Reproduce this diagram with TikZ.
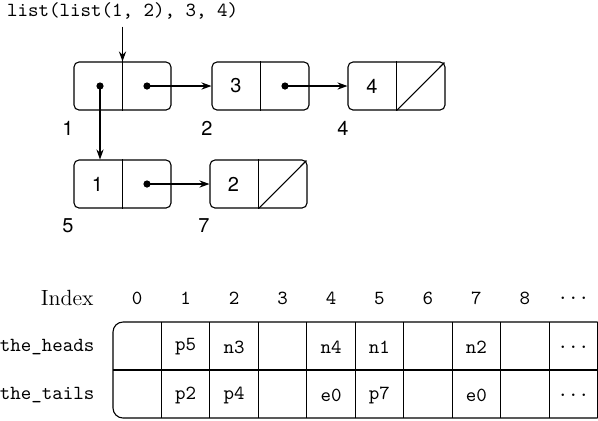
\documentclass[tikz,border=0pt]{standalone}
\usepackage{fontspec}
\newfontfamily\helv{TeX Gyre Heros}
\usepackage{tikz}
\usetikzlibrary{positioning, arrows.meta}

\tikzset{
  cell/.style={draw, rounded corners=2.5pt, minimum width=48.5pt,
               minimum height=24pt, inner sep=0pt},
  ptr/.style={-{Stealth[length=5pt, width=3.6pt]}},
  dot/.style={circle, fill, inner sep=0pt, minimum size=3.6pt},
  num/.style={font=\helv},
  code/.style={font=\ttfamily},
  rowname/.style={code, anchor=east, inner xsep=0pt},
}

\begin{document}
\begin{tikzpicture}[x=0.5pt, y=-0.5pt, line width=0.55pt]
  \useasboundingbox (0,0) rectangle (598,420);

  % the list cells
  \node[code] (expr) at (122.5,11) {list(list(1, 2), 3, 4)};
  \node[cell] (c1) at (122.5,86) {};
  \node[cell] (c2) at (260.5,86) {};
  \node[cell] (c4) at (396.5,86) {};
  \node[cell] (c5) at (122.5,184) {};
  \node[cell] (c7) at (258.5,184) {};
  \foreach \c in {c1,c2,c4,c5,c7}
    \draw (\c.north) -- (\c.south);
  \draw[shorten >=0.8pt] (c4.south) -- (c4.north east);
  \draw[shorten >=0.8pt] (c7.south) -- (c7.north east);

  \node[dot] (d1a) at ([xshift=-11.25pt]c1.center) {};
  \node[dot] (d1b) at ([xshift=12.25pt]c1.center) {};
  \node[num] (v2) at ([xshift=-12.25pt]c2.center) {3};
  \node[dot] (d2b) at ([xshift=12.25pt]c2.center) {};
  \node[num] (v4) at ([xshift=-12.25pt]c4.center) {4};
  \node[num] (v5) at ([xshift=-12.5pt]c5.center) {1};
  \node[dot] (d5b) at ([xshift=12.25pt]c5.center) {};
  \node[num] (v7) at ([xshift=-12.5pt]c7.center) {2};

  \draw[ptr] (expr) -- (c1.north);
  \draw[ptr] (d1b.center) -- (c2);
  \draw[ptr] (d2b.center) -- (c4);
  \draw[ptr] (d1a.center) -- (d1a |- c5.north);
  \draw[ptr] (d5b.center) -- (c7);

  \node[num] (l1) at (68,128) {1};
  \node[num] (l2) at (207,128) {2};
  \node[num] (l4) at (343,128) {4};
  \node[num] (l5) at (68,226) {5};
  \node[num] (l7) at (204,226) {7};

  % the two arrays
  \node[anchor=east, inner xsep=0pt, font=\fontsize{11}{13}\selectfont] (idx) at (94,298) {Index};
  \node[rowname] (heads) at (95,347) {the\_heads};
  \node[rowname] (tails) at (95,395) {the\_tails};
  \foreach \i in {0,...,8}
    \node[code] (h\i) at ({113+48.45*(\i+0.5)},298) {\i};
  \node[code] (h9) at ({113+48.45*9.5},298) {...};

  \draw[rounded corners=5pt] (597.5,322) -- (113,322) -- (113,418) -- (597.5,418);
  \draw (113,370) -- (597.5,370);
  \foreach \i in {1,...,10}
    \draw ({113+48.45*\i},322) -- ({113+48.45*\i},418);

  \foreach \col/\txt in {1/p5, 2/n3, 4/n4, 5/n1, 7/n2}
    \node[code] (hd\col) at ({113+48.45*(\col+0.5)},347) {\txt};
  \foreach \col/\txt in {1/p2, 2/p4, 4/e0, 5/p7, 7/e0}
    \node[code] (tl\col) at ({113+48.45*(\col+0.5)},395) {\txt};
  \node[code] (hd9) at ({113+48.45*9.5},347) {...};
  \node[code] (tl9) at ({113+48.45*9.5},395) {...};
\end{tikzpicture}
\end{document}
